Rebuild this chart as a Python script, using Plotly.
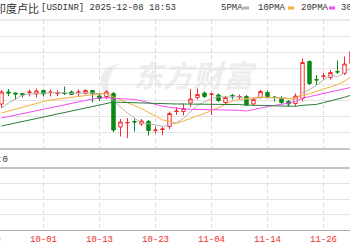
import plotly.graph_objects as go

# ---------------- data ----------------
dates = ["09-23", "09-24", "09-25", "09-26", "09-29", "09-30", "10-01", "10-02", "10-03", "10-06",
         "10-07", "10-08", "10-09", "10-10", "10-13", "10-14", "10-15", "10-16", "10-17", "10-20",
         "10-21", "10-22", "10-23", "10-24", "10-27", "10-28", "10-29", "10-30", "10-31", "11-03",
         "11-04", "11-05", "11-06", "11-07", "11-10", "11-11", "11-12", "11-13", "11-14", "11-17",
         "11-18", "11-19", "11-20", "11-21", "11-24", "11-25", "11-26", "11-27", "11-28", "12-01",
         "12-02"]

open_ = [88.52, 88.76, 88.74, 88.73, 88.75, 88.72, 88.79, 88.75, 88.73, 88.74,
         88.76, 88.75, 88.73, 88.79, 88.68, 88.67, 88.73, 88.06, 88.14, 88.17,
         88.12, 88.17, 87.99, 88.01, 88.07, 88.37, 88.37, 88.54, 88.65, 88.74,
         88.71, 88.70, 88.55, 88.69, 88.66, 88.67, 88.52, 88.65, 88.75, 88.66,
         88.63, 88.57, 88.53, 88.63, 89.37, 89.01, 89.07, 89.05, 89.17, 89.13,
         89.33]
close = [88.76, 88.74, 88.72, 88.70, 88.76, 88.78, 88.72, 88.76, 88.74, 88.73,
         88.71, 88.76, 88.79, 88.73, 88.63, 88.76, 88.00, 88.16, 88.15, 88.16,
         88.18, 87.99, 88.00, 88.02, 88.33, 88.38, 88.43, 88.62, 88.71, 88.67,
         88.72, 88.59, 88.65, 88.68, 88.67, 88.50, 88.61, 88.77, 88.67, 88.65,
         88.55, 88.52, 88.68, 89.35, 88.93, 89.00, 89.08, 89.15, 89.16, 89.32,
         89.57]
high = [88.80, 88.82, 88.75, 88.74, 88.81, 88.83, 88.81, 88.81, 88.79, 88.87,
        88.79, 88.81, 88.81, 88.80, 88.74, 88.80, 88.76, 88.22, 88.24, 88.23,
        88.22, 88.20, 88.07, 88.06, 88.37, 88.46, 88.53, 88.82, 88.83, 88.77,
        88.75, 88.73, 88.68, 88.72, 88.71, 88.70, 88.65, 88.80, 88.79, 88.68,
        88.68, 88.60, 88.73, 89.43, 89.39, 89.10, 89.14, 89.20, 89.39, 89.47,
        89.60]
low = [88.44, 88.68, 88.61, 88.65, 88.67, 88.65, 88.67, 88.67, 88.68, 88.70,
       88.70, 88.68, 88.71, 88.55, 88.58, 88.62, 87.96, 87.87, 87.84, 87.97,
       88.08, 87.89, 87.93, 87.90, 88.02, 88.30, 88.29, 88.46, 88.61, 88.64,
       88.30, 88.56, 88.50, 88.61, 88.61, 88.48, 88.50, 88.63, 88.65, 88.57,
       88.52, 88.47, 88.48, 88.57, 88.90, 88.90, 89.00, 89.01, 89.12, 89.10,
       89.30]

ma5 = [88.44, 88.54, 88.62, 88.70, 88.72, 88.73, 88.736, 88.746, 88.75, 88.746,
       88.73, 88.738, 88.744, 88.742, 88.722, 88.732, 88.582, 88.456, 88.338, 88.246,
       88.13, 88.128, 88.096, 88.072, 88.104, 88.144, 88.234, 88.358, 88.496, 88.564,
       88.632, 88.662, 88.668, 88.662, 88.662, 88.618, 88.622, 88.646, 88.642, 88.64,
       88.65, 88.632, 88.614, 88.75, 88.806, 88.896, 89.008, 89.102, 89.066, 89.142,
       89.256]
ma10 = [88.34, 88.38, 88.42, 88.46, 88.50, 88.54, 88.57, 88.60, 88.62, 88.64,
        88.66, 88.68, 88.694, 88.706, 88.714, 88.732, 88.66, 88.60, 88.54, 88.49,
        88.43, 88.35, 88.27, 88.204, 88.174, 88.136, 88.18, 88.226, 88.284, 88.334,
        88.388, 88.448, 88.514, 88.58, 88.612, 88.624, 88.642, 88.656, 88.652, 88.65,
        88.634, 88.626, 88.63, 88.696, 88.724, 88.774, 88.82, 88.858, 88.908, 88.974,
        89.076]
ma20 = [88.24, 88.27, 88.30, 88.33, 88.36, 88.39, 88.42, 88.45, 88.48, 88.51,
        88.54, 88.57, 88.60, 88.62, 88.64, 88.65, 88.63, 88.624, 88.618, 88.612,
        88.584, 88.546, 88.51, 88.476, 88.454, 88.434, 88.42, 88.414, 88.412, 88.41,
        88.41, 88.402, 88.394, 88.392, 88.394, 88.38, 88.412, 88.442, 88.468, 88.492,
        88.512, 88.538, 88.572, 88.638, 88.668, 88.698, 88.732, 88.758, 88.78, 88.812,
        88.854]
ma30 = [88.08, 88.11, 88.14, 88.18, 88.21, 88.24, 88.27, 88.30, 88.33, 88.36,
        88.39, 88.42, 88.45, 88.48, 88.51, 88.54, 88.56, 88.554, 88.548, 88.542,
        88.536, 88.53, 88.526, 88.522, 88.52, 88.52, 88.52, 88.52, 88.52, 88.52,
        88.518, 88.514, 88.51, 88.51, 88.508, 88.498, 88.494, 88.494, 88.492, 88.49,
        88.484, 88.476, 88.474, 88.494, 88.504, 88.512, 88.548, 88.58, 88.614, 88.654,
        88.70]
volume = [0, 0, 0, 0, 0, 0, 0, 0, 0, 0, 0, 0, 0, 0, 0, 0, 0, 0, 0, 0,
          0, 0, 0, 0, 0, 0, 0, 0, 0, 0, 0, 0, 0, 0, 0, 0, 0, 0, 0, 0,
          0, 0, 0, 0, 0, 0, 0, 0, 0, 0, 0]

tick_dates = ["10-01", "10-13", "10-23", "11-04", "11-14", "11-26"]
ma_names = ["5PMA", "10PMA", "20PMA", "30PMA"]
title_cn = "印度卢比"
title_en = "[USDINR] 2025-12-08 18:53"

# ---------------- style ----------------
W, H = 350, 250
RED = "#f52a2a"
GREEN = "#0b8a16"
MA_COLORS = ["#b4b4b4", "#f6ad3c", "#f54cf5", "#2b7d3c"]
MONO = "Liberation Mono, DejaVu Sans Mono, monospace"
CJK = "Noto Sans CJK SC"
TXT = "#333333"
WM = "#ededed"

def fx(p):
    return p / W

def fy(p):
    return 1 - p / H

P_LO, P_HI = 87.62, 90.20
price_ticks = [P_LO + k * (P_HI - P_LO) / 8 for k in range(9)]

fig = go.Figure()
fig.add_trace(go.Candlestick(
    x=dates, open=open_, high=high, low=low, close=close,
    increasing=dict(line=dict(color=RED, width=1), fillcolor="white"),
    decreasing=dict(line=dict(color=GREEN, width=1), fillcolor=GREEN),
    whiskerwidth=0, xaxis="x", yaxis="y", hoverinfo="skip", showlegend=False))
for vals, col, name in zip([ma5, ma10, ma20, ma30], MA_COLORS, ma_names):
    fig.add_trace(go.Scatter(x=dates, y=vals, mode="lines", name=name,
                             line=dict(color=col, width=1), xaxis="x", yaxis="y",
                             hoverinfo="skip", showlegend=False))
fig.add_trace(go.Bar(x=dates, y=volume, xaxis="x", yaxis="y2",
                     marker=dict(color=RED, line=dict(width=0)), showlegend=False,
                     hoverinfo="skip"))

fig.update_layout(
    width=W, height=H, margin=dict(l=0, r=0, t=0, b=0),
    paper_bgcolor="white", plot_bgcolor="white", showlegend=False,
    xaxis=dict(type="category", domain=[0, 1], anchor="y2",
               range=[-0.214, len(dates) - 1 - 0.214],
               tickmode="array", tickvals=tick_dates, ticktext=tick_dates,
               tickfont=dict(family=MONO, size=9, color=RED), ticks="",
               showgrid=True, gridcolor="#d9d9d9", griddash="4px,3px", gridwidth=1,
               showline=True, linecolor="#a8a8a8", linewidth=1,
               rangeslider=dict(visible=False), fixedrange=True),
    yaxis=dict(domain=[fy(149), fy(20)], range=[P_LO, P_HI], anchor="x",
               tickmode="array", tickvals=price_ticks, showticklabels=False,
               gridcolor="#e4e4e4", zeroline=False, fixedrange=True),
    yaxis2=dict(domain=[fy(230), fy(168)], range=[0, 4], anchor="x",
                tickmode="linear", tick0=0, dtick=1, showticklabels=False,
                gridcolor="#e4e4e4", zeroline=False, fixedrange=True),
)

def path(points):
    s = "M {:.4f},{:.4f}".format(fx(points[0][0]), fy(points[0][1]))
    i = 1
    while i + 1 < len(points):
        (cx, cy), (px, py) = points[i], points[i + 1]
        s += " Q {:.4f},{:.4f} {:.4f},{:.4f}".format(fx(cx), fy(cy), fx(px), fy(py))
        i += 2
    return s + " Z"

logo = path([(120, 64), (99, 66), (101, 84), (103, 97), (116, 99),
             (106, 90), (109, 79), (112, 69), (120, 64)])

shapes = [
    dict(type="line", xref="paper", yref="paper", x0=0, x1=1, y0=fy(20), y1=fy(20),
         line=dict(color="#d6d6d6", width=1)),
    dict(type="line", xref="paper", yref="paper", x0=0, x1=1, y0=fy(149), y1=fy(149),
         line=dict(color="#c4c4c4", width=2)),
    dict(type="line", xref="paper", yref="paper", x0=0, x1=1, y0=fy(168), y1=fy(168),
         line=dict(color="#c4c4c4", width=2)),
    dict(type="path", xref="paper", yref="paper", path=logo, line=dict(width=0),
         fillcolor=WM, layer="below"),
    dict(type="rect", xref="paper", yref="paper", x0=fx(122), x1=fx(264), y0=fy(98), y1=fy(60),
         line=dict(width=0), fillcolor="rgba(0,0,0,0)", layer="below",
         label=dict(text="<i><b>东方财富</b></i>", textposition="middle center",
                    font=dict(family=CJK, size=30, color=WM))),
]
key_x = [243, 288, 329]
for kx, col in zip(key_x, MA_COLORS[:3]):
    shapes.append(dict(type="rect", xref="paper", yref="paper", x0=fx(kx), x1=fx(kx + 6),
                       y0=fy(9.5), y1=fy(6.5), line=dict(width=0), fillcolor=col))
fig.update_layout(shapes=shapes)

ann = [
    dict(text=title_cn, x=fx(40), y=fy(8), xanchor="right", yanchor="middle",
         font=dict(family=CJK, size=11, color=TXT)),
    dict(text=title_en, x=fx(40), y=fy(8), xanchor="left", yanchor="middle",
         font=dict(family=MONO, size=9, color=TXT)),
    dict(text="09-19", x=fx(-12.5), y=fy(240), xanchor="center", yanchor="middle",
         font=dict(family=MONO, size=9, color=RED)),
    dict(text="成交量:0", x=fx(9), y=fy(159), xanchor="right", yanchor="middle",
         font=dict(family=MONO + ", " + CJK, size=9, color=TXT)),
]
for nm, lx in zip(ma_names, [220, 256.5, 300, 340]):
    ann.append(dict(text=nm, x=fx(lx), y=fy(8), xanchor="left", yanchor="middle",
                    font=dict(family=MONO, size=9, color=TXT)))
for a in ann:
    a.update(xref="paper", yref="paper", showarrow=False, borderpad=0)
fig.update_layout(annotations=ann)

fig.write_html("out.html")
